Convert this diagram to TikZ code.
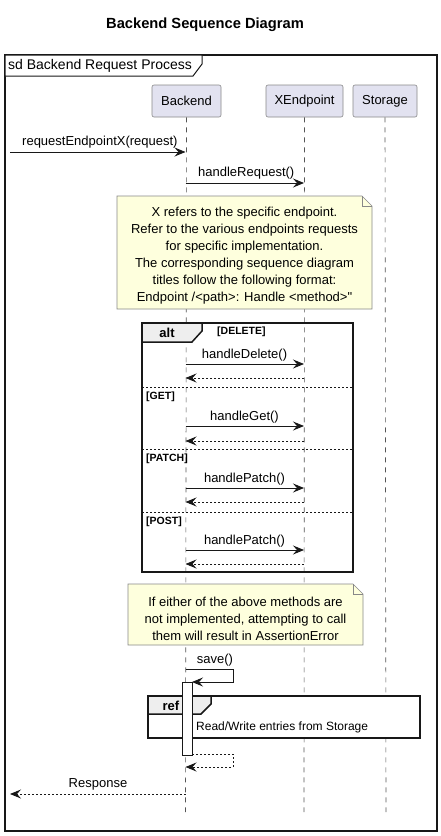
\documentclass[tikz,border=0pt]{standalone}
\usepackage{fontspec}
\setmainfont{Liberation Sans}
\newfontfamily\plainfont{Liberation Sans}
\usetikzlibrary{arrows.meta}
\definecolor{partfill}{HTML}{E2E2F0}
\definecolor{partdraw}{HTML}{888888}
\definecolor{notefill}{HTML}{FEFFDD}
\definecolor{tabfill}{HTML}{EEEEEE}
\definecolor{lifecol}{HTML}{555555}
\definecolor{ink}{HTML}{181818}
\tikzset{
  x=1pt,y=-1pt,
  part/.style={draw=partdraw,fill=partfill,rounded corners=2pt,minimum height=32pt,inner sep=0pt,font=\fontsize{13}{15}\selectfont,line width=0.6pt},
  life/.style={draw=lifecol,dash pattern=on 5pt off 5pt,line width=0.6pt},
  msg/.style={draw=ink,line width=0.9pt,-{Stealth[length=11pt,width=9pt,inset=4pt]}},
  ret/.style={msg,dash pattern=on 2pt off 2pt},
  lbl/.style={font=\fontsize{13}{15}\selectfont,inner sep=0pt,text=black},
  notebox/.style={draw=partdraw,fill=notefill,line width=0.6pt},
  frame/.style={draw=ink,line width=1.5pt},
  tab/.style={draw=ink,line width=1.5pt,fill=tabfill},
  guard/.style={font=\fontsize{10.5}{13}\selectfont\bfseries,inner sep=0pt},
  sep/.style={draw=ink,line width=0.7pt,dash pattern=on 2pt off 2pt},
  notetext/.style={font=\fontsize{13}{17}\selectfont,align=center,inner sep=0pt}
}
\begin{document}
\begin{tikzpicture}
\useasboundingbox (0,0) rectangle (441,836);
\fill[white] (0,0) rectangle (441,836);
% title
\node[font=\fontsize{14.7}{17}\selectfont\bfseries] (title) at (205,25) {Backend Sequence Diagram};
% outer frame
\draw[frame] (5,55) rectangle (437,831);
\draw[line width=1pt,draw=ink,fill=white] (5,55) -- (202,55) -- (202,64) -- (193,76) -- (5,76) -- cycle;
\node[anchor=west,inner sep=0pt,font=\fontsize{14}{16}\selectfont] (sdlbl) at (8,66) {sd Backend Request Process};
% participants
\node[part,minimum width=69pt] (backend) at (186.5,101) {Backend};
\node[part,minimum width=77pt] (xend) at (304.5,101) {XEndpoint};
\node[part,minimum width=64pt] (storage) at (385,101) {Storage};
% lifeline ends
\coordinate (bEnd) at (185.5,812);
\coordinate (xEnd) at (304,812);
\coordinate (sEnd) at (386,812);
\draw[life] (backend.south) -- (bEnd);
\draw[life] (xend.south) -- (xEnd);
\draw[life] (storage.south) -- (sEnd);
% message 1
\coordinate (m1s) at (10,152);
\coordinate (m1e) at (185.5,152);
\draw[msg] (m1s) -- (m1e);
\node[lbl,anchor=south west] (m1l) at (22,148) {requestEndpointX(request)};
% message 2
\coordinate (m2s) at (185.5,183);
\coordinate (m2e) at (304,183);
\draw[msg] (m2s) -- (m2e);
\node[lbl,anchor=south west] (m2l) at (198,179) {handleRequest()};
% note 1
\draw[notebox] (117,196) -- (362,196) -- (372,206) -- (372,309) -- (117,309) -- cycle;
\draw[draw=partdraw,line width=0.6pt] (362,196) -- (362,206) -- (372,206);
\node[notetext] (note1) at (244.5,256) {X refers to the specific endpoint.\\Refer to the various endpoints requests\\for specific implementation.\\The corresponding sequence diagram\\titles follow the following format:\\Endpoint /<path>: Handle <method>{\plainfont"}};
% alt frame
\draw[frame] (142,323) rectangle (353,572);
\draw[tab] (142,323) -- (202,323) -- (202,331) -- (192,342) -- (142,342) -- cycle;
\node[font=\fontsize{13}{15}\selectfont\bfseries,inner sep=0pt] (altl) at (167,333) {alt};
\node[guard,anchor=west] (g1) at (217,332) {[DELETE]};
\coordinate (d1s) at (185.5,364); \coordinate (d1e) at (304,364);
\draw[msg] (d1s) -- (d1e);
\node[lbl,anchor=south] (d1l) at (244.5,361) {handleDelete()};
\coordinate (d2s) at (304,378); \coordinate (d2e) at (185.5,378);
\draw[ret] (d2s) -- (d2e);
\coordinate (sp1a) at (142,387); \coordinate (sp1b) at (353,387);
\draw[sep] (sp1a) -- (sp1b);
\node[guard,anchor=west] (g2) at (146,396.5) {[GET]};
\coordinate (e1s) at (185.5,426); \coordinate (e1e) at (304,426);
\draw[msg] (e1s) -- (e1e);
\node[lbl,anchor=south] (e1l) at (244.5,423) {handleGet()};
\coordinate (e2s) at (304,441); \coordinate (e2e) at (185.5,441);
\draw[ret] (e2s) -- (e2e);
\coordinate (sp2a) at (142,449); \coordinate (sp2b) at (353,449);
\draw[sep] (sp2a) -- (sp2b);
\node[guard,anchor=west] (g3) at (146,458.5) {[PATCH]};
\coordinate (p1s) at (185.5,488); \coordinate (p1e) at (304,488);
\draw[msg] (p1s) -- (p1e);
\node[lbl,anchor=south] (p1l) at (244.5,485) {handlePatch()};
\coordinate (p2s) at (304,502); \coordinate (p2e) at (185.5,502);
\draw[ret] (p2s) -- (p2e);
\coordinate (sp3a) at (142,512); \coordinate (sp3b) at (353,512);
\draw[sep] (sp3a) -- (sp3b);
\node[guard,anchor=west] (g4) at (146,521.5) {[POST]};
\coordinate (q1s) at (185.5,550); \coordinate (q1e) at (304,550);
\draw[msg] (q1s) -- (q1e);
\node[lbl,anchor=south] (q1l) at (244.5,547) {handlePatch()};
\coordinate (q2s) at (304,564); \coordinate (q2e) at (185.5,564);
\draw[ret] (q2s) -- (q2e);
% note 2
\draw[notebox] (128,584) -- (353,584) -- (363,594) -- (363,645) -- (128,645) -- cycle;
\draw[draw=partdraw,line width=0.6pt] (353,584) -- (353,594) -- (363,594);
\node[notetext] (note2) at (245.5,618.5) {If either of the above methods are\\not implemented, attempting to call\\them will result in AssertionError};
% save self message
\node[lbl] (savel) at (215,660) {save()};
\coordinate (s1) at (185.5,669); \coordinate (s2) at (233,669);
\coordinate (s3) at (233,682); \coordinate (s4) at (192,682);
\draw[msg] (s1) -- (s2) -- (s3) -- (s4);
% ref frame
\draw[frame,fill=white] (148,696) rectangle (420,738);
\draw[tab] (148,696) -- (211,696) -- (211,704) -- (201,714) -- (148,714) -- cycle;
\node[font=\fontsize{13}{15}\selectfont\bfseries,inner sep=0pt] (refl) at (171,706) {ref};
\node[lbl,anchor=west,font=\fontsize{12}{14}\selectfont] (reft) at (196,727) {Read/Write entries from Storage};
% activation bar
\node[draw=ink,fill=white,line width=0.9pt,minimum width=10pt,minimum height=73pt,inner sep=0pt] (act) at (187,718.5) {};
% return from activation
\coordinate (r1) at (192,754); \coordinate (r2) at (233,754);
\coordinate (r3) at (233,767); \coordinate (r4) at (185.5,767);
\draw[ret] (r1) -- (r2) -- (r3) -- (r4);
% response
\coordinate (rs) at (185.5,794); \coordinate (re) at (10,794);
\draw[ret] (rs) -- (re);
\node[lbl,anchor=south] (respl) at (98,790) {Response};
\end{tikzpicture}
\end{document}
